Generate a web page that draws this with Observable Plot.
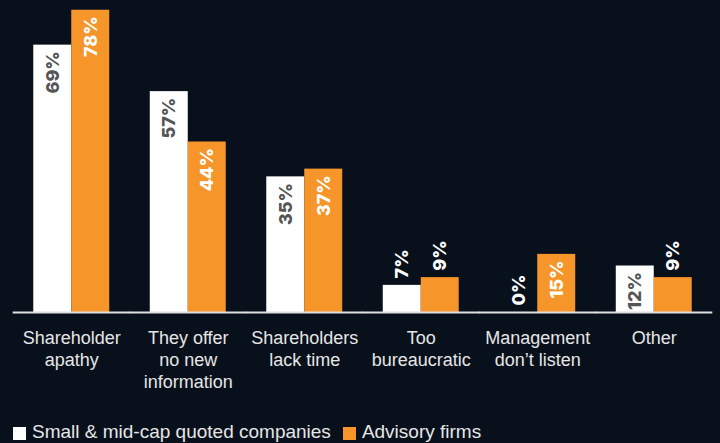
<!DOCTYPE html>
<html><head><meta charset="utf-8">
<script src="https://cdn.jsdelivr.net/npm/d3@7"></script>
<script src="https://cdn.jsdelivr.net/npm/@observablehq/plot@0.6"></script>
<style>
html,body{margin:0;padding:0;background:#08101c;}
#chart svg{display:block;}
#legend{font-family:"Liberation Sans",Arial,sans-serif;font-size:19px;line-height:19px;color:#e6e6e6;padding:22px 0 0 13px;height:21px;white-space:nowrap;}
#legend .sw{display:inline-block;width:13px;height:13px;vertical-align:-2px;margin-right:6px;}
#legend .item{display:inline-block;margin-right:12px;}
</style></head><body>
<div id="chart"></div>
<div id="legend"></div>
<script>
const categories = ["Shareholder\napathy", "They offer\nno new\ninformation", "Shareholders\nlack time", "Too\nbureaucratic", "Management\ndon’t listen", "Other"];
const seriesNames = ["Small & mid-cap quoted companies", "Advisory firms"];
const smallMidValues = [69, 57, 35, 7, 0, 12];
const advisoryValues = [78, 44, 37, 9, 15, 9];
const seriesColors = ["#ffffff", "#f6952a"];

const data = categories.flatMap((c, i) => [
  {category: c, series: seriesNames[0], value: smallMidValues[i]},
  {category: c, series: seriesNames[1], value: advisoryValues[i]}
]);
const insideMin = 12;
const insideWhite = data.filter(d => d.value >= insideMin && d.series === seriesNames[0]);
const insideOrange = data.filter(d => d.value >= insideMin && d.series === seriesNames[1]);
const outside = data.filter(d => d.value < insideMin);

const labelOpts = {fx: "category", x: "series", y: "value", text: d => d.value + "%", rotate: -90,
  fontSize: 18, fontWeight: 800, fontFamily: "Inter, 'Liberation Sans', sans-serif"};

const chart = Plot.plot({
  width: 720, height: 400,
  marginLeft: 13, marginRight: 8, marginTop: 2, marginBottom: 88,
  style: {background: "#08101c", overflow: "visible"},
  fx: {domain: categories, paddingInner: 0.348, paddingOuter: 0.174, round: false, axis: null, label: null},
  x: {domain: seriesNames, padding: 0, round: false, axis: null},
  y: {domain: [0, 80], axis: null},
  color: {domain: seriesNames, range: seriesColors},
  marks: [
    Plot.barY(data, {fx: "category", x: "series", y: "value", fill: "series"}),
    Plot.ruleY([0], {stroke: "#e0e0e0", strokeWidth: 2, insetLeft: -20.6, insetRight: -20.6}),
    Plot.text(insideWhite, {...labelOpts, textAnchor: "end", dy: 6, fill: "#555555"}),
    Plot.text(insideOrange, {...labelOpts, textAnchor: "end", dy: 6, fill: "#ffffff"}),
    Plot.text(outside, {...labelOpts, textAnchor: "start", dy: -7, fill: "#ffffff"}),
    Plot.axisFx({anchor: "bottom", tickSize: 0, tickPadding: 16, fontSize: 18, lineHeight: 1.22,
      fill: "#e6e6e6", fontFamily: "'Liberation Sans', Arial, sans-serif", label: null})
  ]
});
document.getElementById("chart").append(chart);

const legend = document.getElementById("legend");
seriesNames.forEach((name, i) => {
  const item = document.createElement("span");
  item.className = "item";
  const sw = document.createElement("span");
  sw.className = "sw";
  sw.style.background = seriesColors[i];
  item.append(sw, document.createTextNode(name));
  legend.append(item);
});
</script>
</body></html>
